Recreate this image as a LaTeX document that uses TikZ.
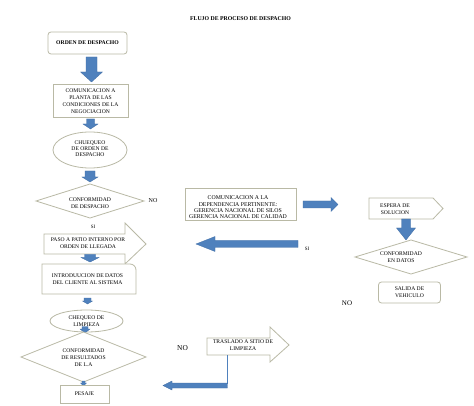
\documentclass[tikz,border=0pt]{standalone}
\usepackage{fontspec}
\setmainfont{Liberation Serif}
\usetikzlibrary{shapes.geometric}
\definecolor{arrowblue}{RGB}{79,129,189}
\definecolor{arrowedge}{RGB}{65,110,165}
\definecolor{boxline}{RGB}{185,185,165}
\newcommand{\myvarrow}[6]{% cx, ytop, yhead, ytip, shaft half, head half
  \filldraw[arrowblue, draw=arrowedge, line width=0.3pt] (#1-#5,#2) -- (#1+#5,#2) -- (#1+#5,#3) -- (#1+#6,#3) -- (#1,#4) -- (#1-#6,#3) -- (#1-#5,#3) -- cycle;}
\newcommand{\myharrow}[6]{% cy, xstart, xhead, xtip, shaft half, head half
  \filldraw[arrowblue, draw=arrowedge, line width=0.3pt] (#2,#1-#5) -- (#3,#1-#5) -- (#3,#1-#6) -- (#4,#1) -- (#3,#1+#6) -- (#3,#1+#5) -- (#2,#1+#5) -- cycle;}
\tikzset{
  shapeline/.style={draw=boxline, line width=0.8pt, fill=white},
  boxnode/.style={shapeline, rectangle, inner sep=0pt},
  txt/.style={inner sep=0pt, align=center, font=\fontsize{5.6}{7}\selectfont},
  lbl/.style={inner sep=0pt, font=\fontsize{6}{7}\selectfont},
}
\begin{document}
\begin{tikzpicture}[x=1pt,y=-1pt]
\useasboundingbox (0,0) rectangle (474,406);
\fill[white] (0,0) rectangle (474,406);

% title
\node[inner sep=0pt, font=\fontsize{5.8}{7}\selectfont\bfseries] (title) at (240.5,19) {FLUJO DE PROCESO DE DESPACHO};

% left column
\node[boxnode, rounded corners=3pt, minimum width=79pt, minimum height=22pt, font=\fontsize{5.7}{7}\selectfont\bfseries] (orden) at (87.5,43) {ORDEN DE DESPACHO};
\myvarrow{91.5}{57}{72}{82}{5.5}{11}

\node[boxnode, minimum width=75pt, minimum height=33pt] (comun) at (90.5,100.5) {};
\node[txt] (comuntxt) at (90.5,101) {COMUNICACION A\\ PLANTA DE LAS\\ CONDICIONES DE LA\\ NEGOCIACION};
\myvarrow{90.5}{119}{124}{129}{4}{7.5}

\node[shapeline, ellipse, inner sep=0pt, minimum width=74pt, minimum height=36pt] (chq1) at (90,150) {};
\node[txt, font=\fontsize{5.6}{6.3}\selectfont] (chq1txt) at (90,148.5) {CHUEQUEO\\ DE ORDEN DE\\ DESPACHO};
\myvarrow{90}{171}{177}{182}{5}{8}

\path[shapeline] (36,201) coordinate (d1w) -- (90,184) coordinate (d1n) -- (144,201) coordinate (d1e) -- (90,218) coordinate (d1s) -- cycle;
\node[txt] (d1txt) at (90,203.5) {CONFORMIDAD\\ DE DESPACHO};
\node[lbl] (no1) at (153,201) {NO};
\node[lbl, font=\fontsize{5}{6}\selectfont] (si1) at (93,227) {SI};

\path[shapeline] (44,234) coordinate (p1) -- (125,234) -- (125,223) -- (146,244) coordinate (p1tip) -- (125,264) -- (125,254) -- (44,254) -- cycle;
\node[txt] (pasotxt) at (88,243.5) {PASO A PATIO INTERNO POR\\ ORDEN DE LLEGADA};
\myvarrow{90}{254.5}{257.5}{262}{5.5}{9}

\path[shapeline] (42,294) coordinate (in1) -- (42,264) -- (130,264) to[out=0,in=90] (136,270) -- (136,294) -- cycle;
\node[txt] (introtxt) at (87.5,279) {INTRODUUCION DE DATOS\\ DEL CLIENTE AL SISTEMA};
\myvarrow{87.5}{298}{301}{304}{3.5}{5}

\node[shapeline, ellipse, inner sep=0pt, minimum width=73pt, minimum height=22pt] (chq2) at (86.5,321) {};
\node[txt] (chq2txt) at (86.5,321.5) {CHEQUEO DE\\ LIMPIEZA};
\myvarrow{85}{326.5}{329}{333}{3}{5}

\path[shapeline] (21,357) coordinate (d2w) -- (83.5,332) coordinate (d2n) -- (146,357) coordinate (d2e) -- (83.5,382) coordinate (d2s) -- cycle;
\node[txt] (d2txt) at (83.5,357.5) {CONFORMIDAD\\ DE RESULTADOS\\ DE L.A};
\myvarrow{83.5}{381}{383}{386}{1.5}{3}

\node[boxnode, minimum width=49pt, minimum height=18pt] (pesaje) at (84.5,394) {};
\node[txt] (pesajetxt) at (84.5,394) {PESAJE};

% middle
\node[lbl, font=\fontsize{7.4}{8}\selectfont] (no2) at (182.5,348) {NO};
\path[shapeline] (207,338) coordinate (t1) -- (270,338) -- (270,327) -- (289,345) coordinate (t1tip) -- (270,362) -- (270,355) -- (207,355) -- cycle;
\node[txt] (trastxt) at (243,345) {TRASLADO A SITIO DE\\ LIMPIEZA};
\coordinate (tdown) at (227,355);
\coordinate (tcorner) at (227,383.5);
\draw[arrowblue, line width=0.8pt] (tdown) -- (tcorner);
\myharrow{385.5}{227.4}{172}{163}{2.5}{4.5}

\node[boxnode, minimum width=111pt, minimum height=32pt] (dep) at (240.5,204) {};
\node[txt, font=\fontsize{5.8}{6.4}\selectfont] (deptxt) at (238,207.5) {COMUNICACION A LA\\ DEPENDENCIA PERTINENTE:\\ GERENCIA NACIONAL DE SILOS\\ GERENCIA NACIONAL DE CALIDAD};
\myharrow{204.5}{303}{331}{338}{3.5}{7}
\myharrow{244}{298}{215}{196}{3.5}{7.5}
\node[lbl, font=\fontsize{5}{6}\selectfont] (si2) at (307,249) {SI};

% right column
\path[shapeline] (369,198) coordinate (e1) -- (433,198) -- (443,208.5) coordinate (e1tip) -- (433,219) -- (369,219) -- cycle;
\node[txt] (esptxt) at (395,209) {ESPERA DE\\ SOLUCION};
\myvarrow{406}{219}{228}{240}{4.5}{9.5}

\path[shapeline] (355,257) coordinate (d3w) -- (411,240) coordinate (d3n) -- (467,257) coordinate (d3e) -- (411,274) coordinate (d3s) -- cycle;
\node[txt] (d3txt) at (401,257) {CONFORMIDAD\\ EN DATOS};

\node[lbl, font=\fontsize{7}{8}\selectfont] (no3) at (347,303) {NO};
\node[boxnode, rounded corners=3pt, minimum width=62pt, minimum height=21pt] (salida) at (409.5,292.5) {};
\node[txt] (saltxt) at (409.5,292.5) {SALIDA DE\\ VEHICULO};
\end{tikzpicture}
\end{document}
